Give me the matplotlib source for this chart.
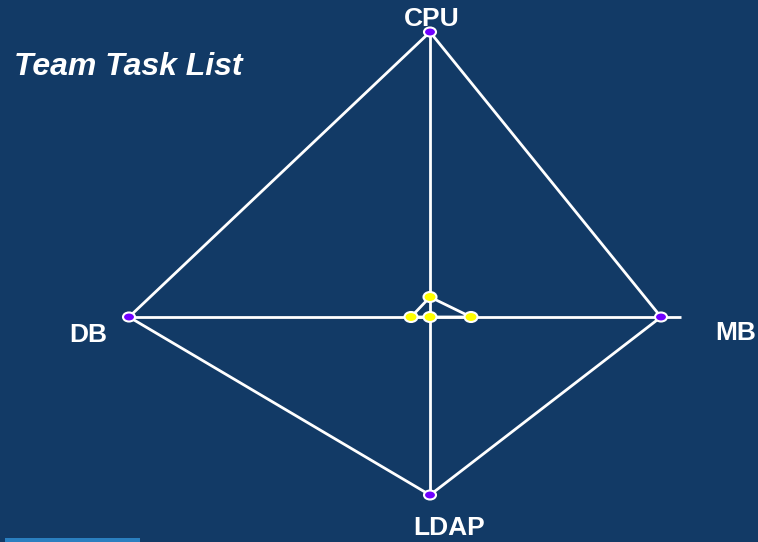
import numpy as np
import matplotlib
matplotlib.use("Agg")
import matplotlib.pyplot as plt
from matplotlib.patches import Ellipse

# axes of the kiviat chart: CPU up, MB right, LDAP down, DB left
labels = ["CPU", "MB", "LDAP", "DB"]
angles = [90, 0, 270, 180]
axis_len = [285, 251, 178, 301]
outer = [285, 231, 178, 301]
inner = [20, 41, 0, 19]

bg = "#123a66"

fig = plt.figure(figsize=(7.58, 5.42), dpi=100, facecolor=bg)
ax = fig.add_axes([0, 0, 1, 1])
ax.set_facecolor(bg)
ax.set_xlim(-430, 328)
ax.set_ylim(-225, 317)
ax.axis("off")

rad = np.deg2rad(angles)
cx, cy = np.cos(rad), np.sin(rad)

def xy(vals):
    v = np.array(vals, dtype=float)
    return np.round(v * cx, 6), np.round(v * cy, 6)

# axis lines
for i in range(4):
    ax.plot([0, axis_len[i] * cx[i]], [0, axis_len[i] * cy[i]],
            color="white", lw=2, solid_capstyle="butt", zorder=2)

ox, oy = xy(outer)
ax.plot(np.append(ox, ox[0]), np.append(oy, oy[0]), color="white", lw=2, zorder=3)
ix, iy = xy(inner)
ax.plot(np.append(ix, ix[0]), np.append(iy, iy[0]), color="white", lw=2, zorder=3)

for x, y in zip(ox, oy):
    ax.add_patch(Ellipse((x, y), 12, 9, facecolor="#7000ff", edgecolor="white", lw=1.5, zorder=5))
for x, y in zip(ix, iy):
    ax.add_patch(Ellipse((x, y), 13, 10, facecolor="#ffff00", edgecolor="white", lw=1.5, zorder=5))

# axis labels
label_pos = {"CPU": (2, 298), "MB": (306, -16), "LDAP": (19, -211), "DB": (-342, -18)}
for lab in labels:
    px, py = label_pos[lab]
    ax.text(px, py, lab, color="white", fontsize=19, fontweight="bold",
            family="Liberation Sans", ha="center", va="center", zorder=6)

ax.text(-416, 250, "Team Task List", color="white", fontsize=23, fontweight="bold",
        fontstyle="italic", family="Liberation Sans", ha="left", va="center")

# lighter strip at the bottom left edge
ax.add_patch(plt.Rectangle((-425, -225), 135, 4, facecolor="#2a7fc0", edgecolor="none", zorder=1))

fig.savefig("out.png", dpi=100, facecolor=bg)
